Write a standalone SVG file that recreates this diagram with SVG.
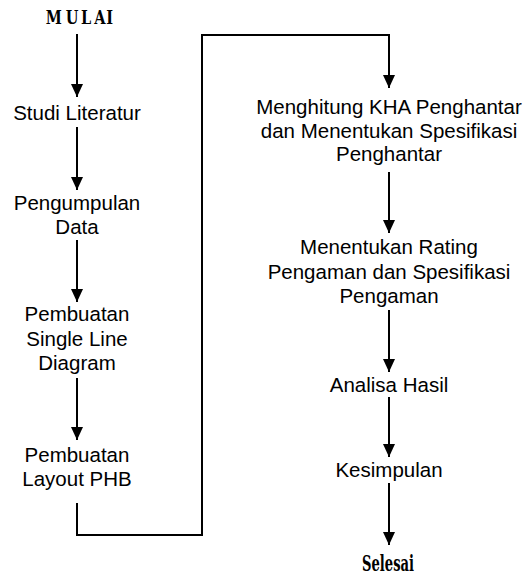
<svg xmlns="http://www.w3.org/2000/svg" width="529" height="574" viewBox="0 0 529 574">
<style>
.t{font-family:"Liberation Sans",Arial,sans-serif;font-size:20.5px;fill:#000;text-anchor:middle}
.h{font-family:"DejaVu Serif Condensed","DejaVu Serif",serif;font-weight:bold;font-stretch:condensed;fill:#000}
.c{fill:none;stroke:#000;stroke-width:2}
</style>
<defs>
<marker id="a" markerUnits="userSpaceOnUse" markerWidth="13" markerHeight="12" viewBox="0 0 13 12" refX="13" refY="6" orient="auto">
<path d="M0,0 L13,6 L0,12 Z" fill="#000"/>
</marker>
</defs>
<g id="connectors">
<path class="c" d="M77,34 V97" marker-end="url(#a)"/>
<path class="c" d="M77,127 V190" marker-end="url(#a)"/>
<path class="c" d="M77,240 V302" marker-end="url(#a)"/>
<path class="c" d="M77,378 V440" marker-end="url(#a)"/>
<path class="c" d="M77,503 V535 H202 V35 H389 V88" marker-end="url(#a)"/>
<path class="c" d="M389,172 V233" marker-end="url(#a)"/>
<path class="c" d="M389,310 V372" marker-end="url(#a)"/>
<path class="c" d="M389,397 V457" marker-end="url(#a)"/>
<path class="c" d="M389,483 V545" marker-end="url(#a)"/>
</g>
<g id="mulai"><text class="h" font-size="19" transform="scale(0.85,1)" x="53.8 77.3 95.3 110.9 125.1" y="23.8">MULAI</text></g>
<g id="studi"><text class="t" x="77" y="119.5">Studi Literatur</text></g>
<g id="pengumpulan"><text class="t" x="77" y="209.5">Pengumpulan</text><text class="t" x="77" y="234">Data</text></g>
<g id="sld"><text class="t" x="77" y="321">Pembuatan</text><text class="t" x="77" y="345.5">Single Line</text><text class="t" x="77" y="370">Diagram</text></g>
<g id="layout"><text class="t" x="77" y="461.5">Pembuatan</text><text class="t" x="77" y="486">Layout PHB</text></g>
<g id="kha"><text class="t" x="389" y="114">Menghitung KHA Penghantar</text><text class="t" x="389" y="137.5">dan Menentukan Spesifikasi</text><text class="t" x="389" y="161">Penghantar</text></g>
<g id="rating"><text class="t" x="389" y="254">Menentukan Rating</text><text class="t" x="389" y="278.5">Pengaman dan Spesifikasi</text><text class="t" x="389" y="303">Pengaman</text></g>
<g id="analisa"><text class="t" x="389" y="392">Analisa Hasil</text></g>
<g id="kesimpulan"><text class="t" x="389" y="477">Kesimpulan</text></g>
<g id="selesai"><text class="h" font-size="22" x="362" y="570.5" textLength="52" lengthAdjust="spacingAndGlyphs">Selesai</text></g>
</svg>
